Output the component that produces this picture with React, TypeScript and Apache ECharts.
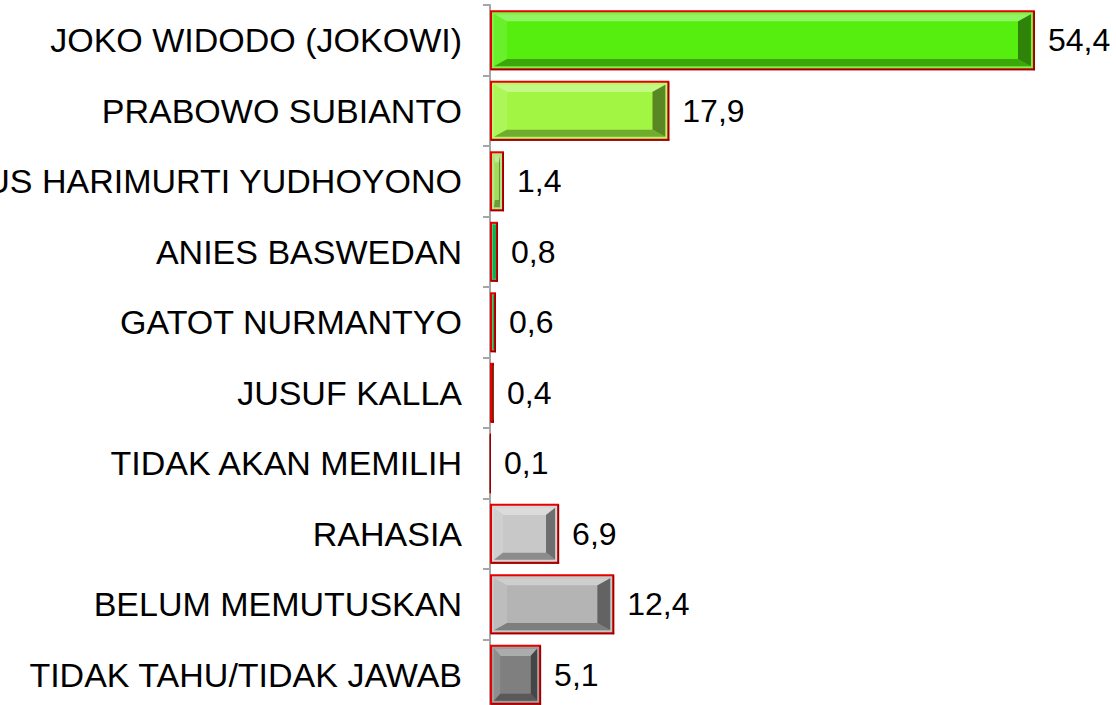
import React, { useEffect, useRef } from "react";
import * as echarts from "echarts";

const categories = [
  "JOKO WIDODO (JOKOWI)",
  "PRABOWO SUBIANTO",
  "AGUS HARIMURTI YUDHOYONO",
  "ANIES BASWEDAN",
  "GATOT NURMANTYO",
  "JUSUF KALLA",
  "TIDAK AKAN MEMILIH",
  "RAHASIA",
  "BELUM MEMUTUSKAN",
  "TIDAK TAHU/TIDAK JAWAB",
];
const values = [54.4, 17.9, 1.4, 0.8, 0.6, 0.4, 0.1, 6.9, 12.4, 5.1];

const barColors = [
  "#55ee0e",
  "#a2f542",
  "#9fdc5a",
  "#10b050",
  "#1fa84a",
  "#228b3a",
  "#7a1c1c",
  "#c8c8c8",
  "#b4b4b4",
  "#7f7f7f",
];

const FONT = '"Liberation Sans", Arial, sans-serif';

function parseHex(hex: string): number[] {
  const h = hex.replace("#", "");
  return [0, 2, 4].map((i) => parseInt(h.slice(i, i + 2), 16));
}
function mix(hex: string, target: string, t: number): string {
  const a = parseHex(hex);
  const b = parseHex(target);
  const c = a.map((v, i) => Math.round(v + (b[i] - v) * t));
  return "rgb(" + c.join(",") + ")";
}

export default function App() {
  const ref = useRef<HTMLDivElement>(null);
  useEffect(() => {
    if (!ref.current) return;
    const chart = echarts.init(ref.current, null, { renderer: "svg" });
    const data = values.map((v, i) => [v, i]);
    const renderItem = (params: any, api: any) => {
      const v = api.value(0);
      const c = api.value(1);
      const base = barColors[c];
      const start = api.coord([0, c]);
      const end = api.coord([v, c]);
      const bandH = api.size([0, 1])[1];
      const h = bandH * 0.85;
      const x0 = start[0];
      const y0 = start[1] - h / 2;
      const w = Math.max(end[0] - start[0], 1);
      const children: any[] = [];
      children.push({ type: "rect", shape: { x: x0, y: y0, width: w, height: h }, style: { fill: "#e80000" } });
      children.push({ type: "rect", shape: { x: x0 + 1, y: y0 + h - 1.5, width: w - 1, height: 1.5 }, style: { fill: "#960000" } });
      children.push({ type: "rect", shape: { x: x0 + w - 1.5, y: y0 + 1, width: 1.5, height: h - 1 }, style: { fill: "#960000" } });
      const x1 = x0 + 2, y1 = y0 + 2, w1 = w - 4, h1 = h - 4;
      if (w1 > 0) {
        children.push({ type: "rect", shape: { x: x1, y: y1, width: w1, height: h1 }, style: { fill: mix(base, "#ffffff", 0.25) } });
        const x2 = x1 + 2, y2 = y1 + 2, w2 = w1 - 4, h2 = h1 - 4;
        if (w2 > 6) {
          const bx = Math.min(13, w2 * 0.15);
          const by = Math.min(8, h2 * 0.14);
          const xr = x2 + w2, yb = y2 + h2;
          children.push({ type: "rect", shape: { x: x2, y: y2, width: w2, height: h2 }, style: { fill: base } });
          children.push({ type: "polygon", shape: { points: [[x2, y2], [xr, y2], [xr - bx, y2 + by], [x2 + bx, y2 + by]] }, style: { fill: mix(base, "#ffffff", 0.35) } });
          children.push({ type: "polygon", shape: { points: [[x2, y2], [x2 + bx, y2 + by], [x2 + bx, yb - by], [x2, yb]] }, style: { fill: mix(base, "#ffffff", 0.12) } });
          children.push({ type: "polygon", shape: { points: [[x2, yb], [x2 + bx, yb - by], [xr - bx, yb - by], [xr, yb]] }, style: { fill: mix(base, "#000000", 0.3) } });
          children.push({ type: "polygon", shape: { points: [[xr, y2], [xr, yb], [xr - bx, yb - by], [xr - bx, y2 + by]] }, style: { fill: mix(base, "#000000", 0.45) } });
          children.push({ type: "rect", shape: { x: x2 + bx, y: y2 + by, width: w2 - 2 * bx, height: h2 - 2 * by }, style: { fill: base } });
        } else {
          children.push({ type: "rect", shape: { x: x1 + 1, y: y1 + 1, width: Math.max(w1 - 1, 0.5), height: h1 - 2 }, style: { fill: base } });
        }
      }
      children.push({
        type: "text",
        x: x0 + w + 13,
        y: start[1],
        style: {
          text: v.toFixed(1).replace(".", ","),
          fill: "#000000",
          fontSize: 32,
          fontFamily: FONT,
          align: "left",
          verticalAlign: "middle",
        },
      });
      return { type: "group", children };
    };
    chart.setOption({
      animation: false,
      backgroundColor: "#ffffff",
      grid: { left: 490, right: 25, top: 5, bottom: 10, containLabel: false, outerBoundsMode: "none" },
      xAxis: { type: "value", min: 0, max: 60, show: false },
      yAxis: {
        type: "category",
        inverse: true,
        data: categories,
        axisLine: { show: true, lineStyle: { color: "#a6a6a6", width: 2 } },
        axisTick: { show: true, length: 7, lineStyle: { color: "#a6a6a6", width: 2 } },
        axisLabel: { fontSize: 34, color: "#000000", margin: 28, fontFamily: FONT },
        splitLine: { show: false },
      },
      series: [
        {
          type: "custom",
          renderItem,
          encode: { x: 0, y: 1 },
          data,
          clip: false,
          z: 3,
        },
      ],
    });
    return () => chart.dispose();
  }, []);
  return (
    <div
      ref={ref}
      style={{ position: "fixed", left: 0, top: 0, width: 1116, height: 720 }}
    />
  );
}
